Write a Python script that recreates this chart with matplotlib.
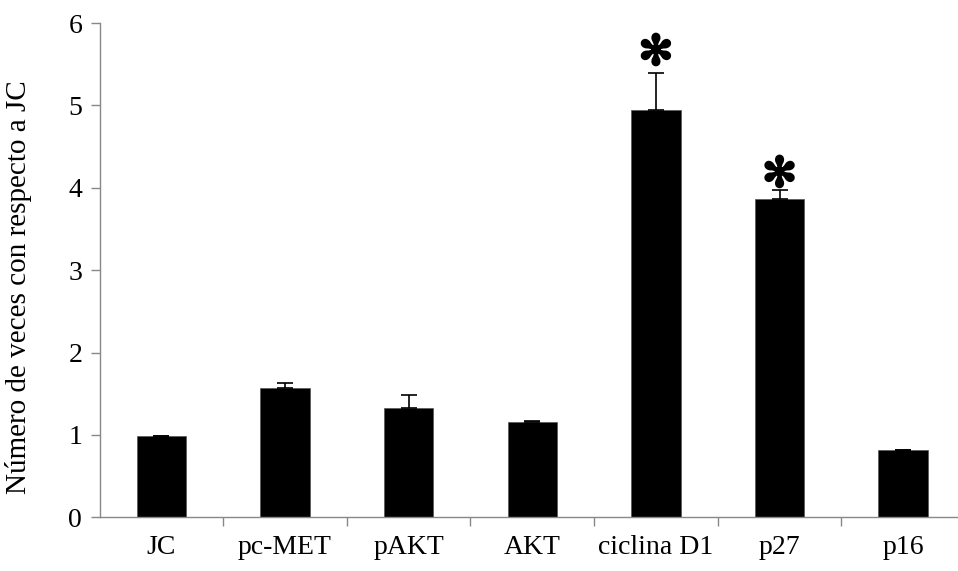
import numpy as np
import matplotlib
matplotlib.use("Agg")
import matplotlib.pyplot as plt
import matplotlib.patheffects as pe

# data
categories = ["JC", "pc-MET", "pAKT", "AKT", "ciclina D1", "p27", "p16"]
values = [0.99, 1.57, 1.33, 1.16, 4.95, 3.86, 0.82]
errors_up = [0.0, 0.06, 0.16, 0.01, 0.44, 0.11, 0.0]
stars = {"ciclina D1": 5.64, "p27": 4.16}

plt.rcParams["font.family"] = ["Liberation Serif", "DejaVu Serif"]

fig = plt.figure(figsize=(9.58, 5.71), dpi=100)
ax = fig.add_axes([0.1039, 0.094, 1.0073 - 0.1039, 0.9597 - 0.094])

x = np.arange(len(categories))
ax.bar(x, values, width=0.4, color="black", edgecolor="#555555", linewidth=0.5)
ax.errorbar(x, values, yerr=[np.zeros(len(values)), errors_up], fmt="none",
            ecolor="black", elinewidth=1.2, capsize=5.5, capthick=1.2)

for name, y in stars.items():
    i = categories.index(name)
    ax.text(x[i], y, "\u273b", ha="center", va="center", fontsize=30,
            family=["DejaVu Sans"], color="black",
            path_effects=[pe.withStroke(linewidth=1.6, foreground="black")])

ax.set_xlim(-0.5, len(categories) - 0.5)
ax.set_ylim(0, 6)
ax.set_yticks(range(7))

# labels at centres, ticks between categories
ax.set_xticks(x)
ax.set_xticklabels(categories, fontsize=20)
ax.set_xticks(np.arange(len(categories)) + 0.5, minor=True)
ax.tick_params(axis="x", which="major", length=0, pad=13)
ax.tick_params(axis="x", which="minor", length=6.5, color="#888888", width=1)
ax.tick_params(axis="y", length=6.5, color="#888888", width=1, labelsize=20, pad=6)

ax.set_ylabel("Número de veces con respecto a JC", fontsize=21)
ax.yaxis.set_label_coords(-0.078, 0.466)

for s in ["top", "right"]:
    ax.spines[s].set_visible(False)
for s in ["left", "bottom"]:
    ax.spines[s].set_color("#888888")
    ax.spines[s].set_linewidth(1)

fig.savefig("out.png", dpi=100)
